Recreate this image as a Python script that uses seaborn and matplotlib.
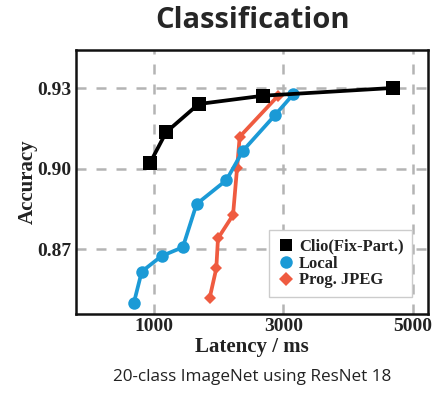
import numpy as np
import pandas as pd
import seaborn as sns
import matplotlib
matplotlib.use("Agg")
import matplotlib.pyplot as plt
from matplotlib.lines import Line2D

# ---- data ----
series_names = ["Clio(Fix-Part.)", "Local", "Prog. JPEG"]
clio_latency = [943, 1191, 1691, 2686, 4696]
clio_acc = [0.9023, 0.9137, 0.9242, 0.9273, 0.9302]
local_latency = [691, 814, 1119, 1448, 1660, 2119, 2376, 2871, 3150]
local_acc = [0.8499, 0.8617, 0.8675, 0.8708, 0.8869, 0.8958, 0.9068, 0.9201, 0.9278]
jpeg_latency = [1861, 1964, 1990, 2222, 2284, 2325, 2918]
jpeg_acc = [0.8518, 0.8629, 0.8741, 0.8828, 0.9002, 0.9120, 0.9273]
x_ticks = [1000, 3000, 5000]
y_ticks = [0.87, 0.90, 0.93]
y_tick_labels = ["0.87", "0.90", "0.93"]

colors = {"Clio(Fix-Part.)": "#000000", "Local": "#1b9ad6", "Prog. JPEG": "#ef5b40"}
markers = {"Clio(Fix-Part.)": "s", "Local": "o", "Prog. JPEG": "D"}
msizes = {"Clio(Fix-Part.)": 10.5, "Local": 9, "Prog. JPEG": 6.5}

df = pd.concat([
    pd.DataFrame({"Latency": clio_latency, "Accuracy": clio_acc, "Method": series_names[0]}),
    pd.DataFrame({"Latency": local_latency, "Accuracy": local_acc, "Method": series_names[1]}),
    pd.DataFrame({"Latency": jpeg_latency, "Accuracy": jpeg_acc, "Method": series_names[2]}),
], ignore_index=True)

sns.set_theme(style="white")
serif = ["Liberation Serif", "DejaVu Serif"]

fig = plt.figure(figsize=(4.35, 4.01), dpi=100)
ax = fig.add_axes([0.1747, 0.217, 0.8093, 0.658])

order = ["Prog. JPEG", "Local", "Clio(Fix-Part.)"]
for name in order:
    sub = df[df["Method"] == name]
    sns.lineplot(data=sub, x="Latency", y="Accuracy", ax=ax, sort=False,
                 color=colors[name], marker=markers[name], markersize=msizes[name],
                 markeredgewidth=0, linewidth=2.7, legend=False, zorder=3)

ax.set_xlim(-200, 5230)
ax.set_ylim(0.8459, 0.9443)
ax.set_xticks(x_ticks)
ax.set_xticklabels([str(t) for t in x_ticks])
ax.set_yticks(y_ticks)
ax.set_yticklabels(y_tick_labels)
ax.grid(True, color="#b4b4b4", linestyle=(0, (4, 4)), linewidth=1.8, zorder=0)
for s in ax.spines.values():
    s.set_color("#111111")
    s.set_linewidth(1.8)
ax.tick_params(axis="both", length=0, pad=3)
for lab in ax.get_xticklabels() + ax.get_yticklabels():
    lab.set_fontfamily(serif)
    lab.set_fontweight("bold")
    lab.set_fontsize(14)
    lab.set_color("#222222")

ax.set_xlabel("Latency / ms", fontfamily=serif, fontweight="bold", fontsize=15,
              color="#222222", labelpad=1)
ax.set_ylabel("Accuracy", fontfamily=serif, fontweight="bold", fontsize=15,
              color="#222222", labelpad=0)

handles = [Line2D([], [], linestyle="none", marker=markers[n], color=colors[n],
                  markersize={"Clio(Fix-Part.)": 9, "Local": 9, "Prog. JPEG": 7}[n],
                  markeredgewidth=0) for n in series_names]
leg = ax.legend(handles, series_names, loc="lower right", bbox_to_anchor=(0.955, 0.065),
                prop={"family": serif, "weight": "bold", "size": 12},
                frameon=True, fancybox=False, handletextpad=0.3, borderpad=0.5,
                labelspacing=0.05, handlelength=1.0, borderaxespad=0)
leg.get_frame().set_edgecolor("#cccccc")
leg.get_frame().set_linewidth(1.0)
leg.get_frame().set_alpha(1.0)
for t in leg.get_texts():
    t.set_color("#222222")

fig.text(0.58, 0.948, "Classification", ha="center", va="center",
         fontfamily=["Open Sans", "DejaVu Sans"], fontweight="bold", fontsize=21)
fig.text(0.58, 0.06, "20-class ImageNet using ResNet 18", ha="center", va="center",
         fontfamily=["Open Sans", "DejaVu Sans"], fontsize=12.3, color="#222222")

fig.savefig("out.png", dpi=100)
